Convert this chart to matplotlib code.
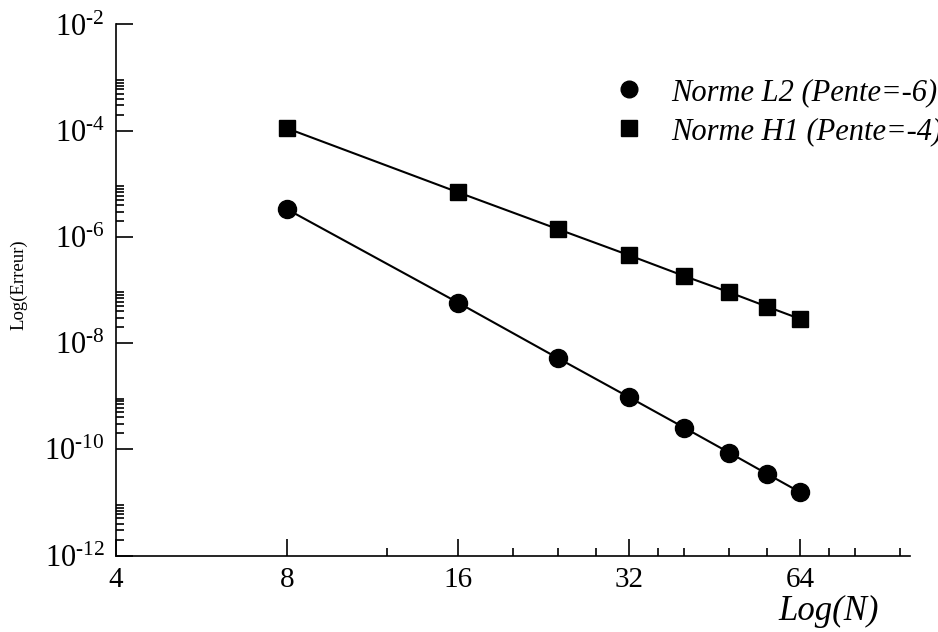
import numpy as np
import matplotlib.pyplot as plt
from matplotlib.lines import Line2D
from matplotlib.ticker import FixedLocator, NullFormatter

plt.rcParams['font.family'] = 'Liberation Serif'
plt.rcParams['mathtext.fontset'] = 'custom'
plt.rcParams['mathtext.rm'] = 'Liberation Serif'
plt.rcParams['mathtext.it'] = 'Liberation Serif:italic'

# Donnees
N = [8, 16, 24, 32, 40, 48, 56, 64]
err_l2 = [3.32e-6, 5.79e-8, 5.2e-9, 9.6e-10, 2.57e-10, 8.7e-11, 3.45e-11, 1.56e-11]
err_h1 = [1.11e-4, 6.93e-6, 1.40e-6, 4.52e-7, 1.84e-7, 9.1e-8, 4.87e-8, 2.86e-8]

x_ticks = [4, 8, 16, 32, 64]
x_labels = ['4', '8', '16', '32', '64']
x_minor = [12, 20, 24, 28, 36, 40, 48, 56, 72, 80, 96]
y_exps = [-2, -4, -6, -8, -10, -12]
legend_labels = ['Norme L2 (Pente=-6)', 'Norme H1 (Pente=-4)']

fig = plt.figure(figsize=(9.38, 6.32), dpi=100)
ax = fig.add_axes([116 / 938, 76.5 / 632, 794 / 938, 531 / 632])

ax.set_xscale('log', base=2)
ax.set_yscale('log')
ax.set_xlim(4, 100)
ax.set_ylim(1e-12, 1e-2)

ax.plot(N, err_l2, color='black', lw=1.5, marker='o', ms=13, clip_on=False)
ax.plot(N, err_h1, color='black', lw=1.5, marker='s', ms=11.5, clip_on=False)

# axes
ax.spines['top'].set_visible(False)
ax.spines['right'].set_visible(False)
for s in ['left', 'bottom']:
    ax.spines[s].set_linewidth(1.2)

ax.xaxis.set_major_locator(FixedLocator(x_ticks))
ax.set_xticklabels(x_labels)
ax.xaxis.set_minor_locator(FixedLocator(x_minor))
ax.xaxis.set_minor_formatter(NullFormatter())

y_major = [10.0 ** e for e in y_exps]
ax.yaxis.set_major_locator(FixedLocator(y_major))
ax.set_yticklabels([r'$\mathregular{10^{\text{-}%d}}$' % -e for e in y_exps])
y_minor = [k * 10.0 ** e for e in y_exps[1:] for k in range(2, 10)]
ax.yaxis.set_minor_locator(FixedLocator(y_minor))
ax.yaxis.set_minor_formatter(NullFormatter())

ax.tick_params(which='major', direction='in', length=12, width=1.2, labelsize=21, pad=8)
ax.tick_params(axis='y', which='major', labelsize=22)
ax.tick_params(which='minor', direction='in', length=6, width=1.2)

ax.set_ylabel('Log(Erreur)', fontsize=13.5)
ax.yaxis.set_label_coords(-0.111, 0.51)

fig.text(829 / 938, (632 - 611) / 632, 'Log(N)', fontsize=25, style='italic',
         ha='center', va='center')

handles = [Line2D([], [], color='black', marker='o', ms=12, ls='none'),
           Line2D([], [], color='black', marker='s', ms=11, ls='none')]
ax.legend(handles, legend_labels, loc='upper left', bbox_to_anchor=(615 / 938, (632 - 78) / 632),
          bbox_transform=fig.transFigure, frameon=False, borderpad=0, borderaxespad=0,
          handlelength=0.9, handletextpad=0.95, labelspacing=0.33,
          prop={'size': 22, 'style': 'italic'})

fig.savefig('out.png', dpi=100)
